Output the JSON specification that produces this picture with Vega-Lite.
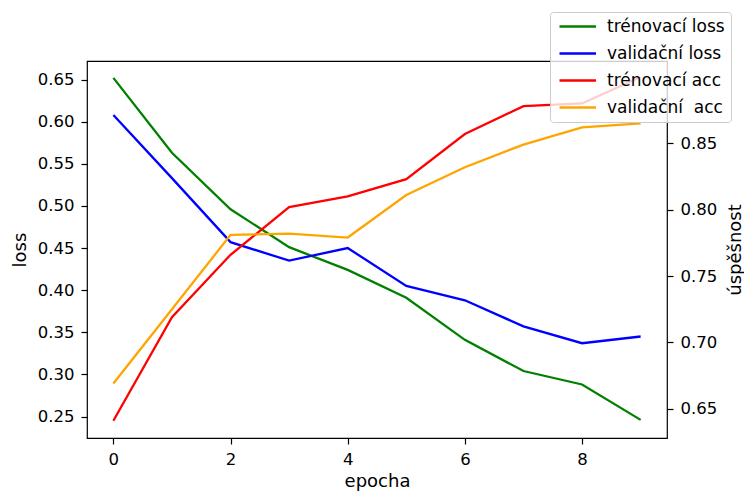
{
  "$schema": "https://vega.github.io/schema/vega-lite/v6.json",
  "width": 580,
  "height": 377,
  "autosize": {"type": "none"},
  "padding": {"left": 87, "top": 61, "right": 77, "bottom": 54},
  "background": "white",
  "config": {
    "font": "DejaVu Sans",
    "view": {"stroke": "black", "strokeWidth": 1.2},
    "axis": {
      "grid": false,
      "labelFontSize": 16.5,
      "titleFontSize": 18,
      "titleFontWeight": "normal",
      "labelColor": "black",
      "titleColor": "black",
      "tickColor": "black",
      "domainColor": "black",
      "tickSize": 6,
      "tickWidth": 1.2,
      "labelPadding": 7,
      "labelFont": "DejaVu Sans",
      "titleFont": "DejaVu Sans"
    },
    "legend": {
      "labelFontSize": 17,
      "labelFont": "DejaVu Sans",
      "labelColor": "black"
    }
  },
  "data": {
    "values": [
      {"epocha": 0, "metrika": "trénovací loss", "typ": "loss", "hodnota": 0.652},
      {"epocha": 1, "metrika": "trénovací loss", "typ": "loss", "hodnota": 0.563},
      {"epocha": 2, "metrika": "trénovací loss", "typ": "loss", "hodnota": 0.496},
      {"epocha": 3, "metrika": "trénovací loss", "typ": "loss", "hodnota": 0.451},
      {"epocha": 4, "metrika": "trénovací loss", "typ": "loss", "hodnota": 0.424},
      {"epocha": 5, "metrika": "trénovací loss", "typ": "loss", "hodnota": 0.391},
      {"epocha": 6, "metrika": "trénovací loss", "typ": "loss", "hodnota": 0.341},
      {"epocha": 7, "metrika": "trénovací loss", "typ": "loss", "hodnota": 0.304},
      {"epocha": 8, "metrika": "trénovací loss", "typ": "loss", "hodnota": 0.288},
      {"epocha": 9, "metrika": "trénovací loss", "typ": "loss", "hodnota": 0.246},
      {"epocha": 0, "metrika": "validační loss", "typ": "loss", "hodnota": 0.608},
      {"epocha": 1, "metrika": "validační loss", "typ": "loss", "hodnota": 0.533},
      {"epocha": 2, "metrika": "validační loss", "typ": "loss", "hodnota": 0.457},
      {"epocha": 3, "metrika": "validační loss", "typ": "loss", "hodnota": 0.435},
      {"epocha": 4, "metrika": "validační loss", "typ": "loss", "hodnota": 0.450},
      {"epocha": 5, "metrika": "validační loss", "typ": "loss", "hodnota": 0.405},
      {"epocha": 6, "metrika": "validační loss", "typ": "loss", "hodnota": 0.388},
      {"epocha": 7, "metrika": "validační loss", "typ": "loss", "hodnota": 0.357},
      {"epocha": 8, "metrika": "validační loss", "typ": "loss", "hodnota": 0.337},
      {"epocha": 9, "metrika": "validační loss", "typ": "loss", "hodnota": 0.345},
      {"epocha": 0, "metrika": "trénovací acc", "typ": "acc", "hodnota": 0.641},
      {"epocha": 1, "metrika": "trénovací acc", "typ": "acc", "hodnota": 0.719},
      {"epocha": 2, "metrika": "trénovací acc", "typ": "acc", "hodnota": 0.766},
      {"epocha": 3, "metrika": "trénovací acc", "typ": "acc", "hodnota": 0.802},
      {"epocha": 4, "metrika": "trénovací acc", "typ": "acc", "hodnota": 0.810},
      {"epocha": 5, "metrika": "trénovací acc", "typ": "acc", "hodnota": 0.823},
      {"epocha": 6, "metrika": "trénovací acc", "typ": "acc", "hodnota": 0.857},
      {"epocha": 7, "metrika": "trénovací acc", "typ": "acc", "hodnota": 0.878},
      {"epocha": 8, "metrika": "trénovací acc", "typ": "acc", "hodnota": 0.880},
      {"epocha": 9, "metrika": "trénovací acc", "typ": "acc", "hodnota": 0.900},
      {"epocha": 0, "metrika": "validační\u00a0 acc", "typ": "acc", "hodnota": 0.669},
      {"epocha": 1, "metrika": "validační\u00a0 acc", "typ": "acc", "hodnota": 0.725},
      {"epocha": 2, "metrika": "validační\u00a0 acc", "typ": "acc", "hodnota": 0.781},
      {"epocha": 3, "metrika": "validační\u00a0 acc", "typ": "acc", "hodnota": 0.782},
      {"epocha": 4, "metrika": "validační\u00a0 acc", "typ": "acc", "hodnota": 0.779},
      {"epocha": 5, "metrika": "validační\u00a0 acc", "typ": "acc", "hodnota": 0.811},
      {"epocha": 6, "metrika": "validační\u00a0 acc", "typ": "acc", "hodnota": 0.832},
      {"epocha": 7, "metrika": "validační\u00a0 acc", "typ": "acc", "hodnota": 0.849},
      {"epocha": 8, "metrika": "validační\u00a0 acc", "typ": "acc", "hodnota": 0.862},
      {"epocha": 9, "metrika": "validační\u00a0 acc", "typ": "acc", "hodnota": 0.865}
    ]
  },
  "encoding": {
    "x": {
      "field": "epocha",
      "type": "quantitative",
      "scale": {"domain": [-0.45, 9.45], "nice": false, "zero": false},
      "axis": {"values": [0, 2, 4, 6, 8], "format": "d", "title": "epocha", "domain": false, "titleY": 43.5, "titleBaseline": "middle"}
    },
    "color": {
      "field": "metrika",
      "type": "nominal",
      "sort": null,
      "scale": {
        "domain": ["trénovací loss", "validační loss", "trénovací acc", "validační\u00a0 acc"],
        "range": ["#008000", "#0000ff", "#ff0000", "#ffa500"]
      },
      "legend": {
        "title": null,
        "orient": "none",
        "legendX": 463,
        "legendY": -49,
        "symbolType": "M-1,0H6.3",
        "symbolSize": 100,
        "symbolStrokeWidth": 2.3,
        "symbolFillColor": "transparent",
        "labelOffset": 34,
        "padding": 6,
        "rowPadding": 9,
        "fillColor": "rgba(255,255,255,0.8)",
        "strokeColor": "#cccccc",
        "cornerRadius": 3,
        "labelFontSize": 17
      }
    }
  },
  "layer": [
    {
      "transform": [{"filter": "datum.typ === 'loss'"}],
      "mark": {"type": "line", "strokeWidth": 2.3},
      "encoding": {
        "y": {
          "field": "hodnota",
          "type": "quantitative",
          "scale": {"domain": [0.2245, 0.672], "nice": false, "zero": false},
          "axis": {"values": [0.25, 0.3, 0.35, 0.4, 0.45, 0.5, 0.55, 0.6, 0.65], "format": ".2f", "title": "loss", "domain": false, "orient": "left", "titleX": -67, "titleBaseline": "middle", "titleAngle": -90}
        }
      }
    },
    {
      "transform": [{"filter": "datum.typ === 'acc'"}],
      "mark": {"type": "line", "strokeWidth": 2.3},
      "encoding": {
        "y": {
          "field": "hodnota",
          "type": "quantitative",
          "scale": {"domain": [0.628, 0.912], "nice": false, "zero": false},
          "axis": {"values": [0.65, 0.7, 0.75, 0.8, 0.85], "format": ".2f", "title": "úspěšnost", "domain": false, "orient": "right", "titleAngle": -90, "titleX": 68, "titleBaseline": "middle"}
        }
      }
    }
  ],
  "resolve": {"scale": {"y": "independent"}}
}
